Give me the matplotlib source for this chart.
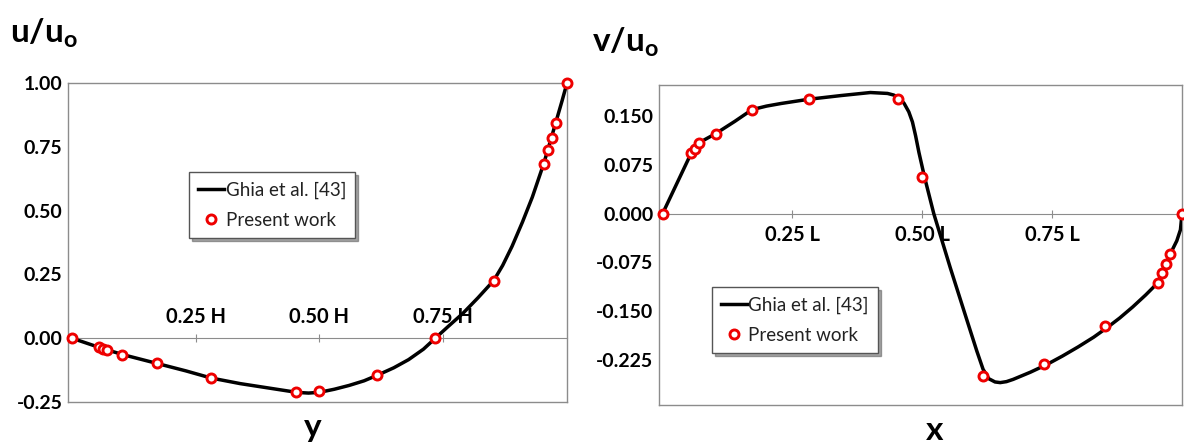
import matplotlib
matplotlib.use("Agg")
import matplotlib.pyplot as plt

plt.rcParams['font.family'] = ['Lato', 'DejaVu Sans']
plt.rcParams['mathtext.fontset'] = 'custom'
plt.rcParams['mathtext.rm'] = 'Lato:bold'
plt.rcParams['mathtext.it'] = 'Lato:bold'

# positions along the centre lines (fraction of H or L)
pos = [0.0, 0.055, 0.063, 0.070, 0.102, 0.172, 0.281, 0.453, 0.500,
       0.617, 0.734, 0.852, 0.953, 0.961, 0.969, 0.977, 1.0]

# present work
u_present = [0.0, -0.036, -0.043, -0.048, -0.065, -0.099, -0.157, -0.212, -0.208,
             -0.145, 0.0, 0.226, 0.684, 0.736, 0.786, 0.843, 1.0]
v_present = [0.0, 0.093, 0.100, 0.109, 0.123, 0.160, 0.176, 0.176, 0.057,
             -0.250, -0.232, -0.174, -0.107, -0.092, -0.078, -0.063, 0.0]

# Ghia et al. curves
ghia_u_y = [0.0, 0.055, 0.102, 0.172, 0.23, 0.281, 0.34, 0.40, 0.44, 0.46, 0.478,
            0.50, 0.53, 0.56, 0.59, 0.617, 0.65, 0.68, 0.71, 0.734, 0.76, 0.79,
            0.82, 0.852, 0.87, 0.889, 0.91, 0.93, 0.953, 0.965, 0.977, 0.99, 1.0]
ghia_u = [0.0, -0.036, -0.064, -0.099, -0.128, -0.156, -0.178, -0.196, -0.208, -0.213, -0.215,
          -0.212, -0.200, -0.185, -0.167, -0.145, -0.116, -0.084, -0.043, 0.0, 0.046, 0.098,
          0.158, 0.226, 0.285, 0.360, 0.455, 0.553, 0.684, 0.763, 0.843, 0.930, 1.0]

ghia_v_x = [0.0, 0.055, 0.063, 0.070, 0.102, 0.139, 0.172, 0.20, 0.228, 0.281, 0.343,
            0.40, 0.433, 0.445, 0.453, 0.459, 0.465, 0.474, 0.481, 0.487, 0.4935, 0.504,
            0.522, 0.554, 0.587, 0.605, 0.617, 0.628, 0.640, 0.650, 0.662, 0.675, 0.69,
            0.708, 0.74, 0.77, 0.80, 0.83, 0.858, 0.88, 0.905, 0.93, 0.945, 0.953, 0.961,
            0.969, 0.977, 0.99, 0.997, 1.0]
ghia_v = [0.0, 0.093, 0.100, 0.109, 0.123, 0.142, 0.160, 0.1655, 0.1695, 0.176, 0.1817,
          0.1864, 0.185, 0.1825, 0.179, 0.175, 0.1696, 0.1566, 0.141, 0.120, 0.094, 0.057,
          0.0, -0.084, -0.167, -0.212, -0.240, -0.2545, -0.2595, -0.2605, -0.259, -0.2555, -0.2505,
          -0.2445, -0.2325, -0.2195, -0.2055, -0.1905, -0.1745, -0.161, -0.144, -0.1255, -0.1135,
          -0.106, -0.093, -0.078, -0.063, -0.042, -0.025, 0.0]

u_ticks = [-0.25, 0.0, 0.25, 0.50, 0.75, 1.00]
v_ticks = [-0.225, -0.150, -0.075, 0.0, 0.075, 0.150]
pos_ticks = [0.25, 0.50, 0.75]
h_labels = ['0.25 H', '0.50 H', '0.75 H']
l_labels = ['0.25 L', '0.50 L', '0.75 L']

W, H = 1184, 443
fig = plt.figure(figsize=(W / 100, H / 100), dpi=100)

def px_axes(l, r, t, b):
    return fig.add_axes([l / W, 1 - b / H, (r - l) / W, (b - t) / H])

ax1 = px_axes(68, 567, 83, 402)
ax2 = px_axes(659, 1182, 85, 405)

grey = '#8c8c8c'


def style(ax, ghia_x, ghia_y, pres_y, yticks, yfmt, xlabels, above, leg_anchor):
    ax.plot(ghia_x, ghia_y, color='black', lw=2.5, label='Ghia et al. [43]', zorder=3,
            solid_joinstyle='round')
    ax.plot(pos, pres_y, linestyle='none', marker='o', ms=6.5, mew=2.1,
            mec='#ee0000', mfc='white', label='Present work', zorder=4, clip_on=False)
    ax.set_yticks(yticks)
    ax.set_yticklabels([yfmt.format(t) for t in yticks], fontweight='bold', fontsize=14)
    ax.tick_params(axis='y', length=0, pad=4)
    ax.set_xticks([])
    for s in ax.spines.values():
        s.set_color(grey)
        s.set_linewidth(1.0)
    # x axis crossing at zero, like the spreadsheet chart
    sec = ax.secondary_xaxis(0, transform=ax.transData)
    sec.set_xticks(pos_ticks)
    sec.set_xticklabels(xlabels, fontweight='bold', fontsize=14.5)
    sec.spines['bottom'].set_color(grey)
    sec.spines['top'].set_color(grey)
    if above:
        sec.xaxis.set_ticks_position('top')
        sec.xaxis.set_label_position('top')
    sec.tick_params(direction='inout', length=6, color=grey, pad=5)
    leg = ax.legend(loc='upper left', bbox_to_anchor=leg_anchor, borderaxespad=0,
                    fontsize=13.5, fancybox=False, shadow=True, handlelength=1.35,
                    handletextpad=0.1, borderpad=0.5, labelspacing=0.7, framealpha=1)
    leg.get_frame().set_edgecolor('#555555')
    for t in leg.get_texts():
        t.set_color('#222222')


style(ax1, ghia_u_y, ghia_u, u_present, u_ticks, '{:.2f}', h_labels, True, (0.2425, 0.721))
ax1.set_xlim(-0.008, 1.0)
ax1.set_ylim(-0.25, 1.0)

style(ax2, ghia_v_x, ghia_v, v_present, v_ticks, '{:.3f}', l_labels, False, (0.101, 0.369))
ax2.set_xlim(-0.007, 1.0)
ax2.set_ylim(-0.295, 0.198)

fig.text(10 / W, 1 - 33 / H, r'$\mathrm{u/u_o}$', fontsize=24, va='center', ha='left')
fig.text(592 / W, 1 - 42 / H, r'$\mathrm{v/u_o}$', fontsize=24, va='center', ha='left')
fig.text(313 / W, 1 - 427 / H, 'y', fontsize=24, fontweight='bold', ha='center', va='center')
fig.text(935 / W, 1 - 430 / H, 'x', fontsize=24, fontweight='bold', ha='center', va='center')

fig.savefig('out.png', dpi=100)
